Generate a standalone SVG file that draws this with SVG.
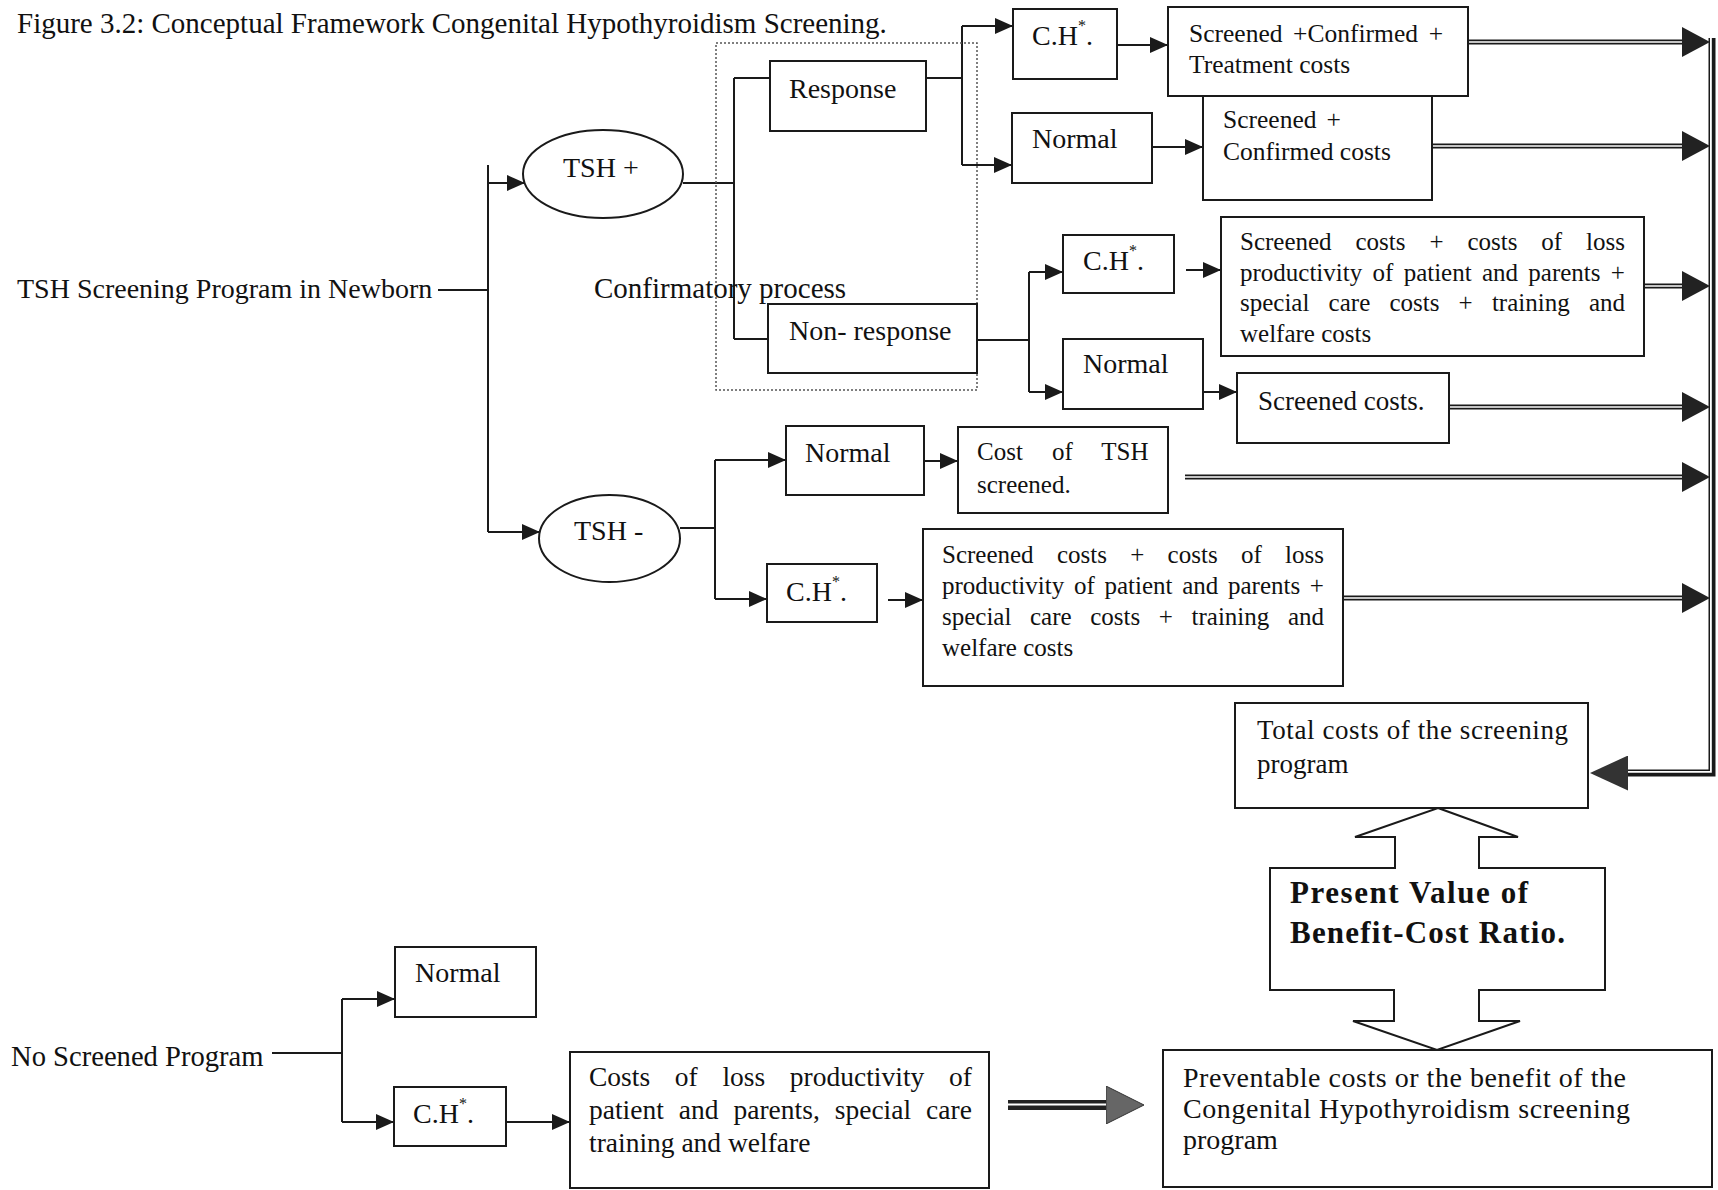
<svg xmlns="http://www.w3.org/2000/svg" width="1718" height="1190" viewBox="0 0 1718 1190">
<style>
.t{font-family:"Liberation Serif","Times New Roman",serif;fill:#111}
.f25{font-size:25px}
.f255{font-size:25.5px}
.f27{font-size:27px}
.f275{font-size:27.5px}
.f28{font-size:28px}
.f29{font-size:29px}
.fb{font-size:31px;font-weight:bold}
.box{fill:#fff;stroke:#1a1a1a;stroke-width:2}
.ln{fill:none;stroke:#1a1a1a;stroke-width:2}
.dbl{fill:none;stroke:#1a1a1a;stroke-width:5}
.dblw{fill:none;stroke:#fff;stroke-width:1.6}
.dot{fill:none;stroke:#555;stroke-width:1.5;stroke-dasharray:2 2}
.sup{font-size:16px}
</style>
<defs>
<marker id="ah" markerUnits="userSpaceOnUse" markerWidth="18" markerHeight="16" refX="18" refY="8" orient="auto" viewBox="0 0 18 16"><path d="M0,0 L18,8 L0,16 z" fill="#1a1a1a"/></marker>
<marker id="bah" markerUnits="userSpaceOnUse" markerWidth="28" markerHeight="30" refX="0" refY="15" orient="auto" viewBox="0 0 28 30"><path d="M0,0 L28,15 L0,30 z" fill="#222"/></marker>
<marker id="lah" markerUnits="userSpaceOnUse" markerWidth="38" markerHeight="35" refX="0" refY="17.5" orient="auto" viewBox="0 0 38 35"><path d="M0,0 L38,17.5 L0,35 z" fill="#333"/></marker>
<marker id="gah" markerUnits="userSpaceOnUse" markerWidth="38" markerHeight="38" refX="0" refY="19" orient="auto" viewBox="0 0 38 38"><path d="M0,0 L38,19 L0,38 z" fill="#666" stroke="#333" stroke-width="1"/></marker>
</defs>

<text id="title" class="t f29" x="17" y="33">Figure 3.2: Conceptual Framework Congenital Hypothyroidism Screening.</text>

<g id="connectors">
<path class="ln" d="M438,290 H488 M488,165 V532"/>
<path class="ln" d="M488,183 H525" marker-end="url(#ah)"/>
<path class="ln" d="M488,532 H540" marker-end="url(#ah)"/>
<path class="ln" d="M683,183 H734 M734,78 V339 M734,78 H770 M734,339 H768"/>
<path class="ln" d="M926,78 H962 M962,26 V165"/>
<path class="ln" d="M962,26 H1013" marker-end="url(#ah)"/>
<path class="ln" d="M962,165 H1012" marker-end="url(#ah)"/>
<path class="ln" d="M1117,45 H1168" marker-end="url(#ah)"/>
<path class="ln" d="M1152,147 H1203" marker-end="url(#ah)"/>
<path class="ln" d="M977,340 H1029 M1029,272 V392"/>
<path class="ln" d="M1029,272 H1063" marker-end="url(#ah)"/>
<path class="ln" d="M1029,392 H1063" marker-end="url(#ah)"/>
<path class="ln" d="M1186,270 H1221" marker-end="url(#ah)"/>
<path class="ln" d="M1203,392 H1237" marker-end="url(#ah)"/>
<path class="ln" d="M680,528 H715 M715,460 V599"/>
<path class="ln" d="M715,460 H786" marker-end="url(#ah)"/>
<path class="ln" d="M715,599 H767" marker-end="url(#ah)"/>
<path class="ln" d="M924,461 H958" marker-end="url(#ah)"/>
<path class="ln" d="M888,600 H923" marker-end="url(#ah)"/>

<path class="dbl" d="M1468,42 H1682" marker-end="url(#bah)"/>
<path class="dblw" d="M1468,42 H1682"/>
<path class="dbl" d="M1432,146 H1682" marker-end="url(#bah)"/>
<path class="dblw" d="M1432,146 H1682"/>
<path class="dbl" d="M1644,286 H1682" marker-end="url(#bah)"/>
<path class="dblw" d="M1644,286 H1682"/>
<path class="dbl" d="M1449,407 H1682" marker-end="url(#bah)"/>
<path class="dblw" d="M1449,407 H1682"/>
<path class="dbl" d="M1185,477 H1682" marker-end="url(#bah)"/>
<path class="dblw" d="M1185,477 H1682"/>
<path class="dbl" d="M1343,598 H1682" marker-end="url(#bah)"/>
<path class="dblw" d="M1343,598 H1682"/>

<path fill="none" stroke="#1a1a1a" stroke-width="7" d="M1712,38 V773 H1628" marker-end="url(#lah)"/>
<path fill="none" stroke="#fff" stroke-width="1.8" d="M1710.9,38 V771.9 H1628"/>

<path class="ln" d="M272,1053 H342 M342,999 V1122"/>
<path class="ln" d="M342,999 H395" marker-end="url(#ah)"/>
<path class="ln" d="M342,1122 H394" marker-end="url(#ah)"/>
<path class="ln" d="M505,1122 H570" marker-end="url(#ah)"/>
<path fill="none" stroke="#222" stroke-width="10" d="M1008,1105 H1106" marker-end="url(#gah)"/>
<path fill="none" stroke="#fff" stroke-width="2.2" d="M1008,1104.5 H1106"/>
</g>

<g id="n_tsh_program"><text class="t f28" x="17" y="298">TSH Screening Program in Newborn</text></g>
<g id="n_tsh_pos"><ellipse class="box" cx="603" cy="174" rx="80" ry="44"/><text class="t f28" x="563" y="177">TSH +</text></g>
<g id="n_tsh_neg"><ellipse class="box" cx="609.5" cy="538.5" rx="70.5" ry="43.5"/><text class="t f28" x="574" y="540">TSH -</text></g>
<g id="n_confirm"><rect class="dot" x="716" y="43" width="261" height="347"/><text class="t f29" x="594" y="298">Confirmatory process</text></g>
<g id="n_response"><rect class="box" x="770" y="61" width="156" height="70"/><text class="t f28" x="789" y="98">Response</text></g>
<g id="n_nonresponse"><rect class="box" x="768" y="304" width="209" height="69"/><text class="t f28" x="789" y="340">Non- response</text></g>

<g id="n_ch1"><rect class="box" x="1013" y="9" width="104" height="70"/><text class="t f28" x="1032" y="45">C.H<tspan class="sup" dy="-14">*</tspan><tspan dy="14">.</tspan></text></g>
<g id="n_normal1"><rect class="box" x="1012" y="113" width="140" height="70"/><text class="t f28" x="1032" y="148">Normal</text></g>
<g id="n_cost1"><rect class="box" x="1168" y="7" width="300" height="89"/><text class="t f255" x="1189" y="42" word-spacing="4.3">Screened +Confirmed +</text><text class="t f255" x="1189" y="73">Treatment costs</text></g>
<g id="n_cost2"><rect class="box" x="1203" y="96" width="229" height="104"/><text class="t f255" x="1223" y="128" word-spacing="3.8">Screened +</text><text class="t f255" x="1223" y="160">Confirmed costs</text></g>

<g id="n_ch2"><rect class="box" x="1063" y="235" width="111" height="58"/><text class="t f28" x="1083" y="270">C.H<tspan class="sup" dy="-14">*</tspan><tspan dy="14">.</tspan></text></g>
<g id="n_normal2"><rect class="box" x="1063" y="339" width="140" height="70"/><text class="t f28" x="1083" y="373">Normal</text></g>
<g id="n_cost3"><rect class="box" x="1221" y="217" width="423" height="139"/>
<text class="t f25" x="1240" y="250" word-spacing="17.65">Screened costs + costs of loss</text>
<text class="t f25" x="1240" y="280.5" word-spacing="4.05">productivity of patient and parents +</text>
<text class="t f25" x="1240" y="311" word-spacing="12.95">special care costs + training and</text>
<text class="t f25" x="1240" y="341.5">welfare costs</text></g>
<g id="n_cost4"><rect class="box" x="1237" y="373" width="212" height="70"/><text class="t f27" x="1258" y="410">Screened costs.</text></g>

<g id="n_normal3"><rect class="box" x="786" y="426" width="138" height="69"/><text class="t f28" x="805" y="462">Normal</text></g>
<g id="n_cost5"><rect class="box" x="958" y="427" width="210" height="86"/><text class="t f25" x="977" y="460" word-spacing="22.8">Cost of TSH</text><text class="t f25" x="977" y="493">screened.</text></g>
<g id="n_ch3"><rect class="box" x="767" y="564" width="110" height="58"/><text class="t f28" x="786" y="601">C.H<tspan class="sup" dy="-14">*</tspan><tspan dy="14">.</tspan></text></g>
<g id="n_cost6"><rect class="box" x="923" y="529" width="420" height="157"/>
<text class="t f25" x="942" y="563" word-spacing="17.05">Screened costs + costs of loss</text>
<text class="t f25" x="942" y="594" word-spacing="3.45">productivity of patient and parents +</text>
<text class="t f25" x="942" y="625" word-spacing="12.35">special care costs + training and</text>
<text class="t f25" x="942" y="656">welfare costs</text></g>

<g id="n_total"><rect class="box" x="1235" y="703" width="353" height="105"/><text class="t f27" x="1257" y="739" textLength="311">Total costs of the screening</text><text class="t f27" x="1257" y="773">program</text></g>
<g id="n_bcr"><polygon class="box" points="1438,808 1518,837 1479,837 1479,868 1605,868 1605,990 1479,990 1479,1021 1520,1021 1437,1050 1353,1021 1394,1021 1394,990 1270,990 1270,868 1395,868 1395,837 1355,837"/>
<text class="t fb" x="1290" y="903" textLength="238">Present Value of</text>
<text class="t fb" x="1290" y="943" textLength="275">Benefit-Cost Ratio.</text></g>
<g id="n_prevent"><rect class="box" x="1163" y="1050" width="549" height="137"/>
<text class="t f28" x="1183" y="1087" textLength="443">Preventable costs or the benefit of the</text>
<text class="t f28" x="1183" y="1118" textLength="447">Congenital Hypothyroidism screening</text>
<text class="t f28" x="1183" y="1149">program</text></g>

<g id="n_noscreen"><text class="t" style="font-size:28.6px" x="11" y="1066">No Screened Program</text></g>
<g id="n_normal4"><rect class="box" x="395" y="947" width="141" height="70"/><text class="t f28" x="415" y="982">Normal</text></g>
<g id="n_ch4"><rect class="box" x="394" y="1087" width="112" height="59"/><text class="t f28" x="413" y="1123">C.H<tspan class="sup" dy="-14">*</tspan><tspan dy="14">.</tspan></text></g>
<g id="n_cost7"><rect class="box" x="570" y="1052" width="419" height="136"/>
<text class="t f275" x="589" y="1086" word-spacing="17.8">Costs of loss productivity of</text>
<text class="t f275" x="589" y="1119" word-spacing="8.1">patient and parents, special care</text>
<text class="t f275" x="589" y="1152">training and welfare</text></g>
</svg>
